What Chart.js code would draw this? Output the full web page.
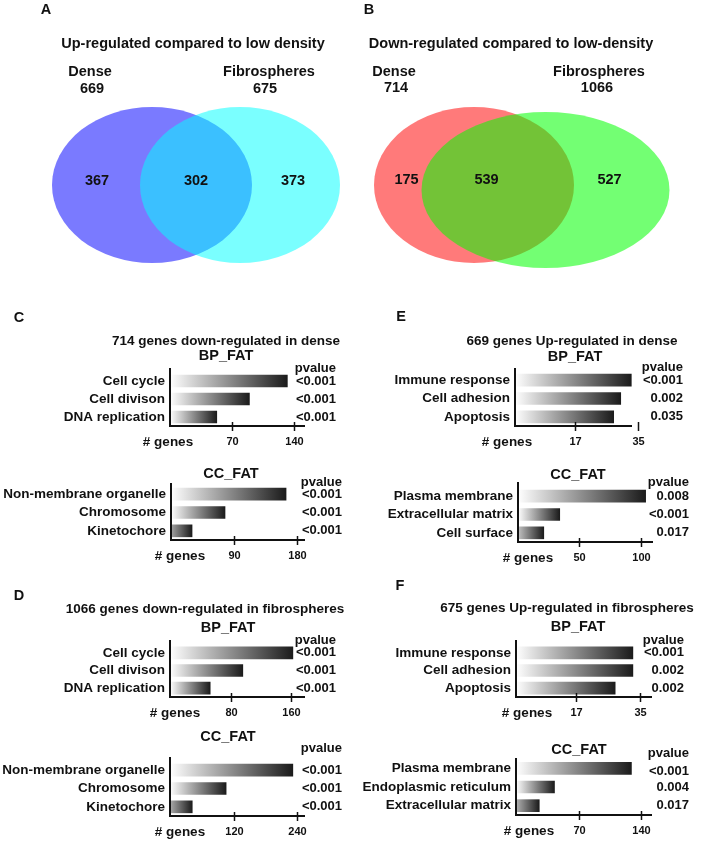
<!DOCTYPE html>
<html>
<head>
<meta charset="utf-8">
<script src="https://cdn.jsdelivr.net/npm/chart.js@4.4.1/dist/chart.umd.min.js"></script>
<style>
  html, body { margin: 0; padding: 0; background: #fff; }
  #wrap { position: relative; width: 704px; height: 842px; }
  #wrap canvas { position: absolute; left: 0; top: 0; }
</style>
</head>
<body>
<div id="wrap"></div>
<script>
// ---- data ----
const vennUpSets = ['Dense', 'Fibrospheres'];
const vennUpTotals = [669, 675];
const vennUpRegions = [367, 302, 373];      // dense only, shared, fibrospheres only
const vennDownSets = ['Dense', 'Fibrospheres'];
const vennDownTotals = [714, 1066];
const vennDownRegions = [175, 539, 527];

const cBpTerms = ['Cell cycle', 'Cell divison', 'DNA replication'];
const cBpGenes = [133, 90, 53];
const cBpPvalues = ['<0.001', '<0.001', '<0.001'];
const cBpTicks = [70, 140];

const cCcTerms = ['Non-membrane organelle', 'Chromosome', 'Kinetochore'];
const cCcGenes = [164, 77, 30];
const cCcPvalues = ['<0.001', '<0.001', '<0.001'];
const cCcTicks = [90, 180];

const dBpTerms = ['Cell cycle', 'Cell divison', 'DNA replication'];
const dBpGenes = [162, 96, 53];
const dBpPvalues = ['<0.001', '<0.001', '<0.001'];
const dBpTicks = [80, 160];

const dCcTerms = ['Non-membrane organelle', 'Chromosome', 'Kinetochore'];
const dCcGenes = [232, 106, 42];
const dCcPvalues = ['<0.001', '<0.001', '<0.001'];
const dCcTicks = [120, 240];

const eBpTerms = ['Immune response', 'Cell adhesion', 'Apoptosis'];
const eBpGenes = [33, 30, 28];
const eBpPvalues = ['<0.001', '0.002', '0.035'];
const eBpTicks = [17, 35];

const eCcTerms = ['Plasma membrane', 'Extracellular matrix', 'Cell surface'];
const eCcGenes = [104, 34, 21];
const eCcPvalues = ['0.008', '<0.001', '0.017'];
const eCcTicks = [50, 100];

const fBpTerms = ['Immune response', 'Cell adhesion', 'Apoptosis'];
const fBpGenes = [33, 33, 28];
const fBpPvalues = ['<0.001', '0.002', '0.002'];
const fBpTicks = [17, 35];

const fCcTerms = ['Plasma membrane', 'Endoplasmic reticulum', 'Extracellular matrix'];
const fCcGenes = [129, 43, 26];
const fCcPvalues = ['<0.001', '0.004', '0.017'];
const fCcTicks = [70, 140];

// ---- layout / style ----
const W = 704, H = 842;
const FONT = '"Liberation Sans", Arial, Helvetica, sans-serif';
const INK = '#111';

function txt(ctx, s, x, y, size, align) {
  ctx.save();
  ctx.font = 'bold ' + size + 'px ' + FONT;
  ctx.fillStyle = INK;
  ctx.textAlign = align || 'center';
  ctx.textBaseline = 'middle';
  ctx.fillText(String(s), x, y);
  ctx.restore();
}

function makeCanvas() {
  const c = document.createElement('canvas');
  c.width = W; c.height = H;
  c.style.width = W + 'px'; c.style.height = H + 'px';
  document.getElementById('wrap').appendChild(c);
  return c;
}

// ---- Venn diagrams (ellipses placed through the chart scales) ----
function createVenn(sets, totals, regions, L) {
  const ellipsePlugin = {
    id: 'vennEllipses',
    beforeDatasetsDraw(chart) {
      const { ctx } = chart;
      const xs = chart.scales.x, ys = chart.scales.y;
      const ux = xs.getPixelForValue(1) - xs.getPixelForValue(0);
      const uy = ys.getPixelForValue(0) - ys.getPixelForValue(1);
      chart.data.datasets.forEach((ds, i) => {
        const p = ds.data[0];
        ctx.save();
        ctx.fillStyle = L.colors[i];
        ctx.beginPath();
        ctx.ellipse(xs.getPixelForValue(p.x), ys.getPixelForValue(p.y), L.radii[i][0] * ux, L.radii[i][1] * uy, 0, 0, Math.PI * 2);
        ctx.fill();
        ctx.restore();
      });
    },
    afterDraw(chart) {
      const { ctx } = chart;
      const xs = chart.scales.x, ys = chart.scales.y;
      regions.forEach((n, i) => {
        const p = L.regionAt[i];
        txt(ctx, n, xs.getPixelForValue(p[0]), ys.getPixelForValue(p[1]), 14.5);
      });
      txt(ctx, L.letter[0], L.letter[1], L.letter[2], 14.5);
      txt(ctx, L.title[0], L.title[1], L.title[2], 14.5);
      sets.forEach((s, i) => {
        const a = L.setLabels[i];
        txt(ctx, s, a[0], a[1], 14.5);
        txt(ctx, totals[i], a[2], a[3], 14.5);
      });
    }
  };

  return new Chart(makeCanvas(), {
    type: 'scatter',
    data: {
      datasets: sets.map((s, i) => ({
        label: s,
        data: [{ x: L.centers[i][0], y: L.centers[i][1] }],
        pointRadius: 0
      }))
    },
    options: {
      responsive: false,
      animation: false,
      events: [],
      layout: { padding: { left: L.area[0], right: W - L.area[1], top: L.area[2], bottom: H - L.area[3] } },
      plugins: { legend: { display: false }, tooltip: { enabled: false } },
      scales: {
        x: { display: false, min: L.xRange[0], max: L.xRange[1] },
        y: { display: false, min: L.yRange[0], max: L.yRange[1] }
      }
    },
    plugins: [ellipsePlugin]
  });
}

createVenn(vennUpSets, vennUpTotals, vennUpRegions, {
  area: [52, 340, 107, 263], xRange: [-1.44, 1.44], yRange: [-1, 1],
  centers: [[-0.44, 0], [0.44, 0]], radii: [[1, 1], [1, 1]],
  colors: ['rgba(0,0,255,0.52)', 'rgba(0,255,255,0.52)'],
  regionAt: [[-0.99, 0.05], [0, 0.05], [0.97, 0.05]],
  letter: ['A', 46, 10], title: ['Up-regulated compared to low density', 193, 44],
  setLabels: [[90, 72, 92, 89], [269, 72, 265, 89]]
});

createVenn(vennDownSets, vennDownTotals, vennDownRegions, {
  area: [374, 670, 107, 268], xRange: [-1, 1.96], yRange: [-1.065, 1],
  centers: [[0, 0], [0.715, -0.064]], radii: [[1, 1], [1.24, 1]],
  colors: ['rgba(255,0,0,0.52)', 'rgba(0,255,0,0.55)'],
  regionAt: [[-0.675, 0.064], [0.125, 0.064], [1.355, 0.064]],
  letter: ['B', 369, 10], title: ['Down-regulated compared to low-density', 511, 44],
  setLabels: [[394, 72, 396, 88], [599, 72, 597, 88]]
});

// ---- GO term bar charts ----
function createTermChart(terms, genes, pvalues, ticks, L) {
  // white -> near black gradient along each bar; short bars start grey
  const gradFill = (c) => {
    const xs = c.chart.scales.x;
    if (!xs || c.raw == null) return '#888';
    const x0 = xs.getPixelForValue(0);
    const x1 = xs.getPixelForValue(c.raw);
    if (!isFinite(x0) || !isFinite(x1)) return '#888';
    const g = c.chart.ctx.createLinearGradient(x1 - Math.max(x1 - x0, 35), 0, x1, 0);
    g.addColorStop(0, '#ffffff');
    g.addColorStop(1, '#1b1b1b');
    return g;
  };

  const axisPlugin = {
    id: 'termAxis',
    afterDraw(chart) {
      const { ctx, chartArea } = chart;
      const xs = chart.scales.x, ys = chart.scales.y;
      const left = chartArea.left, right = chartArea.right, bottom = chartArea.bottom;
      ctx.save();
      ctx.strokeStyle = INK;
      ctx.lineWidth = 2;
      ctx.beginPath();
      ctx.moveTo(left, L.yTop);
      ctx.lineTo(left, bottom + 1);
      ctx.moveTo(left - 1, bottom);
      ctx.lineTo(right, bottom);
      ctx.stroke();
      ctx.lineWidth = 1.5;
      ticks.forEach(t => {
        const px = Math.round(xs.getPixelForValue(t)) + 0.5;
        ctx.beginPath();
        ctx.moveTo(px, bottom - 4);
        ctx.lineTo(px, bottom + 5);
        ctx.stroke();
        txt(ctx, t, px, bottom + 16, 11);
      });
      ctx.restore();

      terms.forEach((t, i) => {
        const y = ys.getPixelForValue(i);
        txt(ctx, t, left - 5, y, 13.5, 'right');
        txt(ctx, pvalues[i], L.pvalRight, y + (L.pvalShift ? L.pvalShift[i] : 0), 13, 'right');
      });
      txt(ctx, 'pvalue', L.pvalRight, L.pvalHeadY, 13, 'right');
      txt(ctx, '# genes', L.genesX, bottom + 16, 13.5);
      txt(ctx, L.heading[0], L.heading[1], L.heading[2], 14.5);
      if (L.section) txt(ctx, L.section[0], L.section[1], L.section[2], 13.5);
      if (L.letter) txt(ctx, L.letter[0], L.letter[1], L.letter[2], 14.5);
    }
  };

  return new Chart(makeCanvas(), {
    type: 'bar',
    data: {
      labels: terms,
      datasets: [{
        data: genes,
        backgroundColor: gradFill,
        borderWidth: 0,
        barThickness: 12
      }]
    },
    options: {
      indexAxis: 'y',
      responsive: false,
      animation: false,
      events: [],
      layout: { padding: { left: L.left, right: W - L.right, top: L.top, bottom: H - L.bottom } },
      plugins: { legend: { display: false }, tooltip: { enabled: false } },
      scales: {
        x: { display: false, min: 0, max: L.max },
        y: { display: false }
      }
    },
    plugins: [axisPlugin]
  });
}

createTermChart(cBpTerms, cBpGenes, cBpPvalues, cBpTicks, {
  left: 170, right: 305, top: 372, bottom: 426, max: 153, yTop: 368,
  genesX: 168, pvalRight: 336, pvalHeadY: 368,
  heading: ['BP_FAT', 226, 356], section: ['714 genes down-regulated in dense', 226, 341], letter: ['C', 19, 318]
});
createTermChart(cCcTerms, cCcGenes, cCcPvalues, cCcTicks, {
  left: 171, right: 305, top: 485, bottom: 540, max: 191, yTop: 483,
  genesX: 180, pvalRight: 342, pvalHeadY: 482,
  heading: ['CC_FAT', 231, 474]
});
createTermChart(dBpTerms, dBpGenes, dBpPvalues, dBpTicks, {
  left: 170, right: 305, top: 644, bottom: 697, max: 178, yTop: 640,
  genesX: 175, pvalRight: 336, pvalHeadY: 640,
  heading: ['BP_FAT', 228, 628], section: ['1066 genes down-regulated in fibrospheres', 205, 609], letter: ['D', 19, 596]
});
createTermChart(dCcTerms, dCcGenes, dCcPvalues, dCcTicks, {
  left: 170, right: 305, top: 761, bottom: 816, max: 255, yTop: 757,
  genesX: 180, pvalRight: 342, pvalHeadY: 748,
  heading: ['CC_FAT', 228, 737]
});
createTermChart(eBpTerms, eBpGenes, eBpPvalues, eBpTicks, {
  left: 515, right: 632, top: 371, bottom: 426, max: 33.2, yTop: 368,
  genesX: 507, pvalRight: 683, pvalHeadY: 367,
  heading: ['BP_FAT', 575, 357], section: ['669 genes Up-regulated in dense', 572, 341], letter: ['E', 401, 317]
});
createTermChart(eCcTerms, eCcGenes, eCcPvalues, eCcTicks, {
  left: 518, right: 653, top: 487, bottom: 542, max: 110, yTop: 482,
  genesX: 528, pvalRight: 689, pvalHeadY: 482,
  heading: ['CC_FAT', 578, 475]
});
createTermChart(fBpTerms, fBpGenes, fBpPvalues, fBpTicks, {
  left: 516, right: 652, top: 644, bottom: 697, max: 38.4, yTop: 640,
  genesX: 527, pvalRight: 684, pvalHeadY: 640,
  heading: ['BP_FAT', 578, 627], section: ['675 genes Up-regulated in fibrospheres', 567, 608], letter: ['F', 400, 586]
});
createTermChart(fCcTerms, fCcGenes, fCcPvalues, fCcTicks, {
  left: 516, right: 652, top: 759, bottom: 815, max: 152, yTop: 758,
  genesX: 529, pvalRight: 689, pvalHeadY: 753, pvalShift: [3, 0, 0],
  heading: ['CC_FAT', 579, 750]
});
</script>
</body>
</html>
